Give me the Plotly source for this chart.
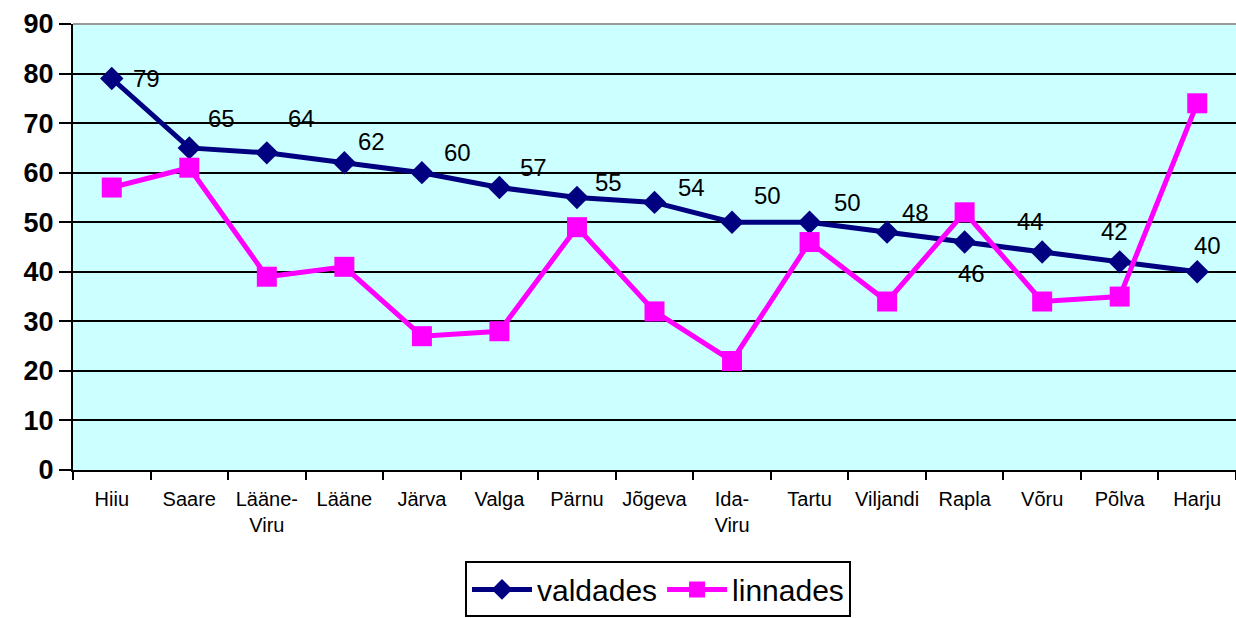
import plotly.graph_objects as go

categories = ["Hiiu", "Saare", "Lääne-<br>Viru", "Lääne", "Järva", "Valga", "Pärnu", "Jõgeva",
              "Ida-<br>Viru", "Tartu", "Viljandi", "Rapla", "Võru", "Põlva", "Harju"]
valdades = [79, 65, 64, 62, 60, 57, 55, 54, 50, 50, 48, 46, 44, 42, 40]
linnades = [57, 61, 39, 41, 27, 28, 49, 32, 22, 46, 34, 52, 34, 35, 74]
y_ticks = [0, 10, 20, 30, 40, 50, 60, 70, 80, 90]

# label offsets (styling) in pixels for valdades data labels
label_dx = [35, 32, 35, 27, 36, 34, 32, 37, 35, 38, 28, 7, -12, -5, 10]
label_dy = [0, 29, 34, 21, 20, 20, 15, 15, 27, 20, 20, -31, 30, 30, 26]

FONT = "Arial, Liberation Sans, sans-serif"

fig = go.Figure()
fig.add_trace(go.Scatter(
    x=categories, y=valdades, name="valdades", mode="lines+markers",
    line=dict(color="#000080", width=5),
    marker=dict(symbol="diamond", size=18, color="#000080"),
))
fig.add_trace(go.Scatter(
    x=categories, y=linnades, name="linnades", mode="lines+markers",
    line=dict(color="#FF00FF", width=5),
    marker=dict(symbol="square", size=20, color="#FF00FF"),
))

for c, v, dx, dy in zip(categories, valdades, label_dx, label_dy):
    fig.add_annotation(x=c, y=v, text=str(v), showarrow=False, xshift=dx, yshift=dy,
                       font=dict(family=FONT, size=24, color="black"))

fig.add_shape(type="line", xref="paper", yref="paper", x0=0, x1=1, y0=1, y1=1,
              line=dict(color="#999999", width=2), layer="above")

fig.update_layout(
    width=1236, height=618,
    margin=dict(l=73, r=0, t=24, b=148),
    paper_bgcolor="white",
    plot_bgcolor="#CCFFFF",
    font=dict(family=FONT, color="black"),
    showlegend=True,
    legend=dict(orientation="h", x=0.503, xanchor="center", y=-0.205, yanchor="top",
                bordercolor="black", borderwidth=2, bgcolor="white",
                font=dict(family=FONT, size=30, color="black"),
                itemwidth=60),
    xaxis=dict(
        type="category", showgrid=False, showline=True, linecolor="black", linewidth=2,
        ticks="outside", tickson="boundaries", ticklen=8, tickwidth=2, tickcolor="black",
        tickfont=dict(family=FONT, size=20, color="black"), ticklabelstandoff=10,
        range=[-0.5, len(categories) - 0.5], automargin=False,
    ),
    yaxis=dict(
        range=[0, 90], tickvals=y_ticks, showgrid=True, gridcolor="black", gridwidth=1.5,
        showline=True, linecolor="black", linewidth=2, zeroline=False,
        ticks="outside", ticklen=12, tickwidth=2, tickcolor="black",
        tickfont=dict(family=FONT, size=27, color="black", weight="bold"),
        automargin=False,
    ),
)

fig.write_html(
    "out.html",
    config={"displayModeBar": False},
    post_script="document.body.style.margin='0';document.body.style.overflow='hidden';",
)
